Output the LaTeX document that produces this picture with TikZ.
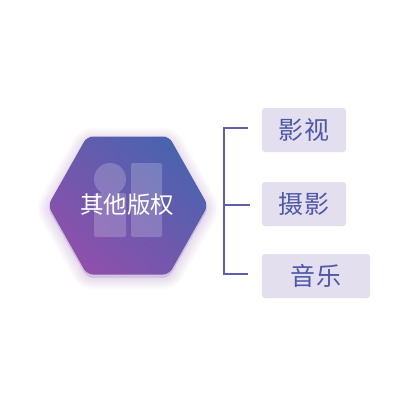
\documentclass[tikz,border=0pt]{standalone}
\usepackage{fontspec}
\newfontfamily\cjk{Noto Sans CJK SC}
\usetikzlibrary{calc}
\usetikzlibrary{positioning}
\definecolor{hexblue}{HTML}{4A63AE}
\definecolor{hexpurple}{HTML}{8E50AC}
\definecolor{glowpurple}{HTML}{8A55B5}
\definecolor{boxfill}{HTML}{E3DFEF}
\definecolor{boxtext}{HTML}{4F58A8}
\definecolor{bracketline}{HTML}{5F5EAD}
\newcommand{\hexpath}{(48,205.5) -- (87,136.5) -- (169,136.5) -- (208,205.5) -- (169,274.5) -- (87,274.5) -- cycle}

\begin{document}
\begin{tikzpicture}[
	x=1pt, y=-1pt,
	item/.style = {fill=boxfill, rounded corners=3pt, text=boxtext, font=\cjk\fontsize{25}{25}\selectfont, minimum height=44pt, inner sep=0pt},
	bracket/.style = {draw=bracketline, line width=2pt},
	ghost/.style = {fill=white, fill opacity=0.2}
	]
	\useasboundingbox (0,0) rectangle (420,420);
	\fill[white] (0,0) rectangle (420,420);

	% glow
	\begin{scope}[yshift=-3pt]
	\foreach \w in {2,4,...,24}
		\draw[glowpurple, draw opacity=0.014, fill=glowpurple, fill opacity=0.014, line width=\w pt, line join=round, rounded corners=6pt] \hexpath;
	\end{scope}

	\shade[rounded corners=6pt, top color=hexblue, bottom color=hexpurple, shading angle=-40] \hexpath;

	% icon
	\fill[ghost] (110,179) circle[radius=16pt] [rounded corners=2pt] (94,193) rectangle (126,237);
	\fill[ghost, rounded corners=2pt] (131,163) rectangle (162,237);

	\node[inner sep=0pt, text=white, font=\cjk\fontsize{23.5}{24}\selectfont] (hex) at (127,205) {其他版权};

	\node[item, minimum width=84pt] (film) at (304,130) {影\hspace{0.5pt}视};
	\node[item, minimum width=84pt] (photo) at (304,204) {摄\hspace{0.5pt}影};
	\node[item, minimum width=108pt] (music) at (316,276) {音\hspace{0.5pt}乐};

	\coordinate (@top) at (248,128);
	\coordinate (@mid) at (250,205);
	\coordinate (@bot) at (248,274);
	\coordinate (@spine) at (224,205);

	\draw[bracket] (@top) -| (@spine) |- (@bot);
	\draw[bracket] (@spine) -- (@mid);

\end{tikzpicture}
\end{document}
